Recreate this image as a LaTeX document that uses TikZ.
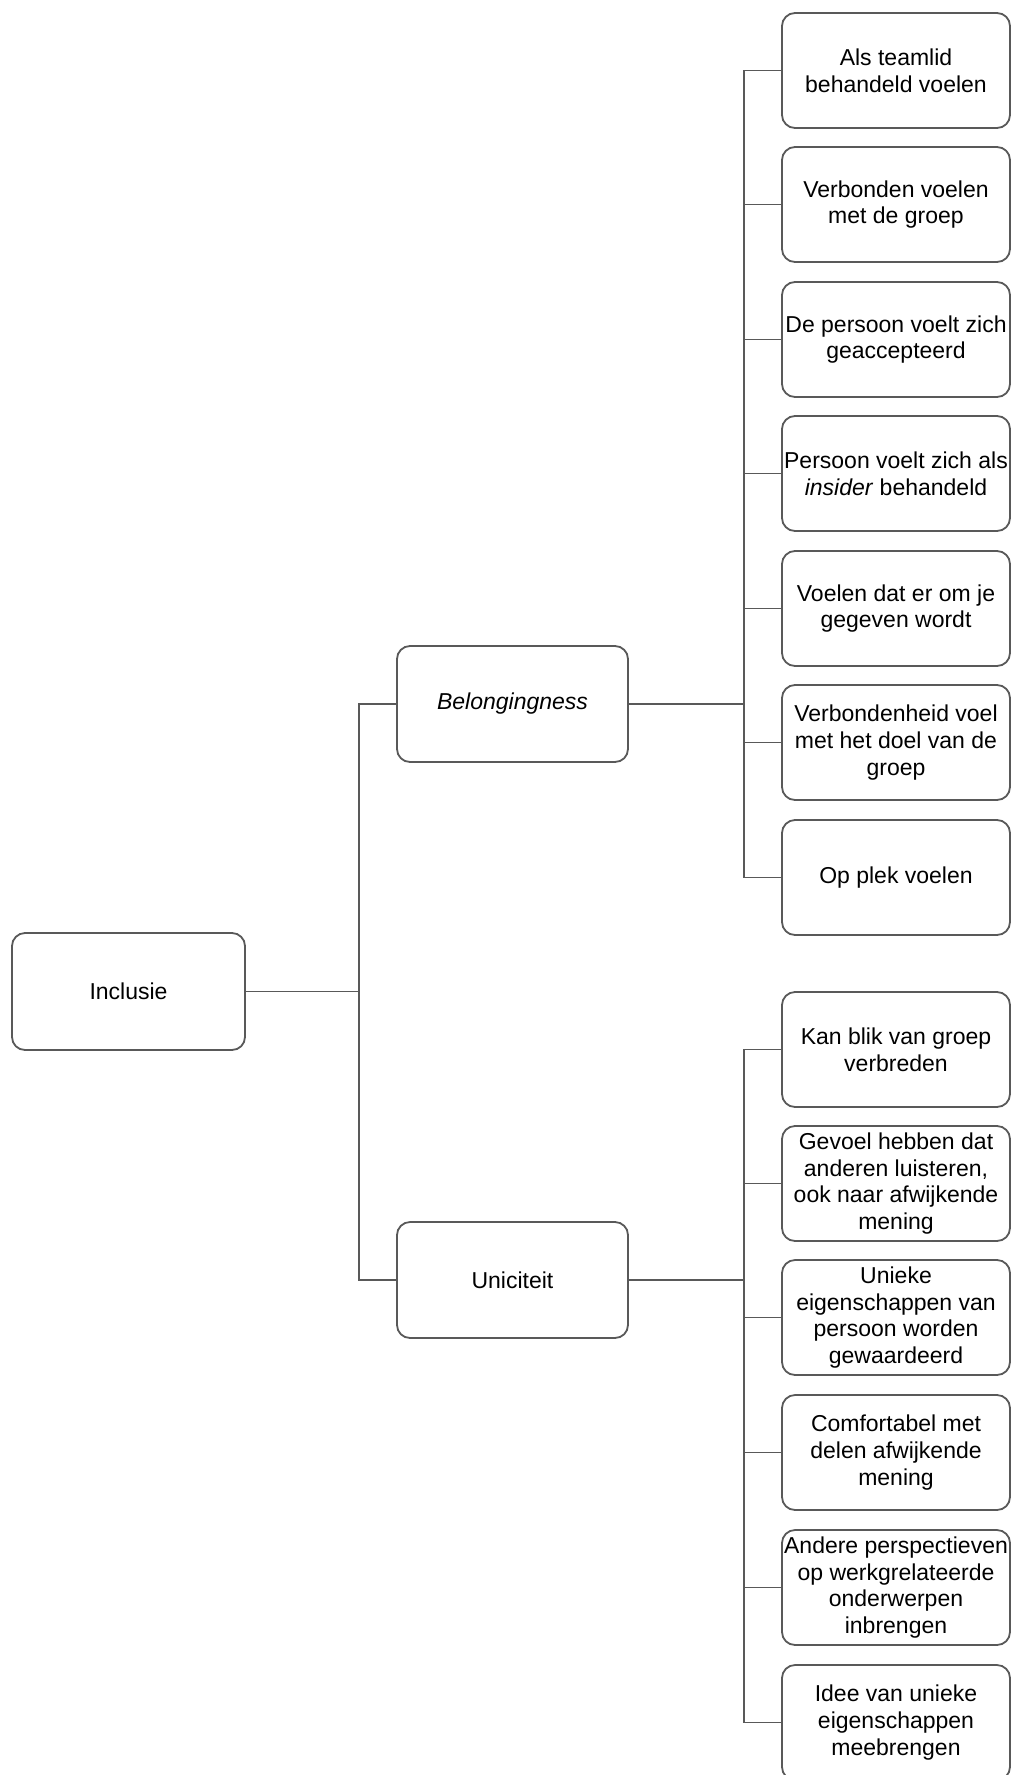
\documentclass[tikz,border=0pt]{standalone}
\usepackage{fontspec}
\setmainfont{Liberation Sans}
\begin{document}
\begin{tikzpicture}[x=1pt,y=-1pt,
  box/.style={draw=black!65, line width=1.8pt, rounded corners=13pt, fill=white,
    inner sep=0pt, align=center, text=black,
    font=\fontsize{23}{26.7}\selectfont},
  leaf/.style={box, minimum width=228pt, minimum height=115pt},
  mid/.style={box, minimum width=231pt, minimum height=116pt},
  conn/.style={draw=black!65, line width=1.8pt}]
\useasboundingbox (0,0) rectangle (1012,1775);

\node[box, minimum width=233pt, minimum height=117pt] (inc) at (128.5,991.5) {Inclusie};
\node[mid] (bel) at (512.5,704) {\itshape Belongingness};
\node[mid] (uni) at (512.5,1280) {Uniciteit};

\node[leaf] (a1) at (896,70.5) {Als teamlid\\behandeld voelen};
\node[leaf] (a2) at (896,204.5) {Verbonden voelen\\met de groep};
\node[leaf] (a3) at (896,339.5) {De persoon voelt zich\\geaccepteerd};
\node[leaf] (a4) at (896,473.5) {Persoon voelt zich als\\\textit{insider} behandeld};
\node[leaf] (a5) at (896,608.5) {Voelen dat er om je\\gegeven wordt};
\node[leaf] (a6) at (896,742.5) {Verbondenheid voel\\met het doel van de\\groep};
\node[leaf] (a7) at (896,877.5) {Op plek voelen};

\node[leaf] (u1) at (896,1049.5) {Kan blik van groep\\verbreden};
\node[leaf] (u2) at (896,1183.5) {Gevoel hebben dat\\anderen luisteren,\\ook naar afwijkende\\mening};
\node[leaf] (u3) at (896,1317.5) {Unieke\\eigenschappen van\\persoon worden\\gewaardeerd};
\node[leaf] (u4) at (896,1452.5) {Comfortabel met\\delen afwijkende\\mening};
\node[leaf] (u5) at (896,1587.5) {Andere perspectieven\\op werkgrelateerde\\onderwerpen\\inbrengen};
\node[leaf] (u6) at (896,1722.5) {Idee van unieke\\eigenschappen\\meebrengen};

\coordinate (b0) at (359,991.5);
\coordinate (b1) at (744,704);
\coordinate (b2) at (744,1280);

\draw[conn] (inc.east) -- (b0);
\draw[conn] (b0) |- (bel.west);
\draw[conn] (b0) |- (uni.west);

\draw[conn] (bel.east) -- (b1);
\foreach \n in {a1,a2,a3,a4,a5,a6,a7} \draw[conn] (b1) |- (\n.west);

\draw[conn] (uni.east) -- (b2);
\foreach \n in {u1,u2,u3,u4,u5,u6} \draw[conn] (b2) |- (\n.west);
\end{tikzpicture}
\end{document}
